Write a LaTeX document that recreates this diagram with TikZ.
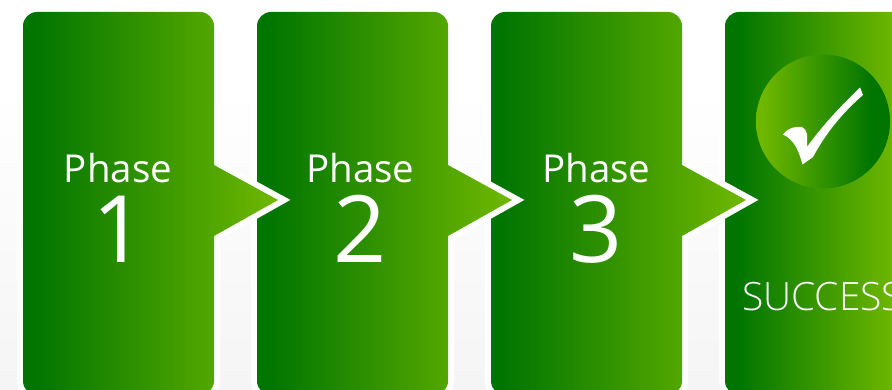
\documentclass[tikz,border=0pt]{standalone}
\usepackage{fontspec}
\setmainfont{Open Sans}
\newfontfamily\lightfont{Open Sans Light}
\definecolor{gd}{HTML}{007500}
\definecolor{gl}{HTML}{70B800}
\pgfdeclarehorizontalshading{boxgrad}{100bp}{color(0bp)=(gd);color(27bp)=(gd);color(75bp)=(gl);color(100bp)=(gl)}
\pgfdeclarehorizontalshading{lastgrad}{100bp}{color(0bp)=(gd);color(28bp)=(gd);color(70bp)=(gl);color(100bp)=(gl)}
\pgfdeclarehorizontalshading{circgrad}{100bp}{color(0bp)=(gl);color(27bp)=(gl);color(68bp)=(gd);color(100bp)=(gd)}
\tikzset{
  halo/.style={draw=white,line width=12pt,miter limit=10,line join=miter},
  boxfill/.style={shading=boxgrad},
  phaselabel/.style={anchor=base,text=white,inner sep=0pt,font=\fontsize{38.5}{39}\selectfont},
  numlabel/.style={anchor=base,text=white,inner sep=0pt,font=\fontsize{93}{93}\selectfont},
  successlabel/.style={anchor=base west,text=white,inner sep=0pt,font=\lightfont\fontsize{39}{39}\selectfont},
}
\begin{document}
\begin{tikzpicture}[x=1pt,y=-1pt]
\useasboundingbox (0,0) rectangle (892,390);
\fill[white] (0,0) rectangle (892,390);
\shade[top color=white,bottom color=black!4] (0,90) rectangle (892,390);
% last box
\def\lastbox{(739,12) -- (902,12) .. controls (909.7,12) and (916,18.3) .. (916,26) -- (916,381) .. controls (916,388.7) and (909.7,395) .. (902,395) -- (739,395) .. controls (731.3,395) and (725,388.7) .. (725,381) -- (725,26) .. controls (725,18.3) and (731.3,12) .. (739,12) -- cycle}
\path[halo] \lastbox;
\path[shading=lastgrad] \lastbox;
% phase boxes, right to left so that each arrow lies over its neighbour
\foreach \dx in {468,234,0}{
  \begin{scope}[xshift=\dx pt]
    \def\phasebox{(37,12) -- (200,12) .. controls (207.7,12) and (214,18.3) .. (214,26) -- (214,165) -- (278,200) -- (214,236) -- (214,381) .. controls (214,388.7) and (207.7,395) .. (200,395) -- (37,395) .. controls (29.3,395) and (23,388.7) .. (23,381) -- (23,26) .. controls (23,18.3) and (29.3,12) .. (37,12) -- cycle}
    \path[halo] \phasebox;
    \path[boxfill] \phasebox;
  \end{scope}
}
\node[phaselabel] (p1) at (118,183) {Phase};
\node[numlabel] (n1) at (119,263) {1};
\node[phaselabel] (p2) at (360.5,183) {Phase};
\node[numlabel] (n2) at (360.5,263) {2};
\node[phaselabel] (p3) at (596.5,183) {Phase};
\node[numlabel] (n3) at (596,263) {3};
\node[successlabel] (s) at (742,310) {SUCCESS};
\path[shading=circgrad] (823,121.5) circle (67);
\fill[white] (783,134.5)
  .. controls (788,128) and (795,126) .. (802,127)
  .. controls (805,128) and (806,131) .. (807,134)
  -- (807,147)
  .. controls (825,122) and (845,102) .. (860,87.5)
  -- (863,95)
  .. controls (840,115) and (825,135) .. (813,157)
  -- (802.5,164.5)
  .. controls (799,152) and (795,140) .. (783,134.5) -- cycle;
\end{tikzpicture}
\end{document}
